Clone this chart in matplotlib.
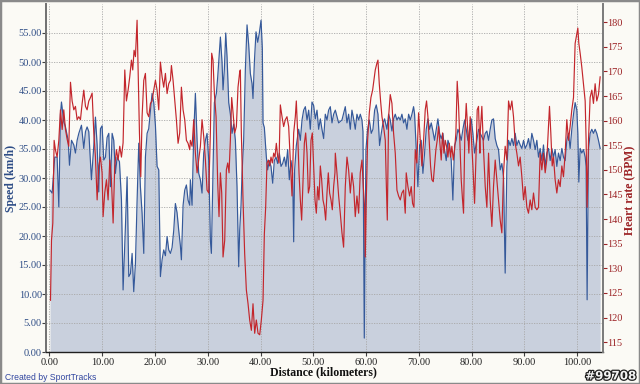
import matplotlib
matplotlib.use("Agg")
import matplotlib.pyplot as plt
from matplotlib.ticker import FixedLocator, FormatStrFormatter
from matplotlib.patches import Rectangle
import matplotlib.patheffects as pe

speed_km = [0.1, 0.5, 1.0, 1.45, 1.77, 2.08, 2.27, 2.71, 3.03, 3.54, 3.79, 4.17, 4.61, 4.92, 5.24, 5.56,
            6.06, 6.5, 6.82, 7.13, 7.45, 7.95, 8.4, 8.71, 9.03, 9.34, 9.66, 9.97, 10.29, 10.61, 10.92,
            11.24, 11.55, 11.87, 12.18, 12.5, 12.82, 13.26, 13.64, 13.95, 14.39, 14.71, 15.03, 15.34,
            15.66, 15.97, 16.29, 16.6, 16.92, 17.23, 17.55, 17.87, 18.18, 18.5, 18.81, 19.44, 19.76,
            20.08, 20.39, 20.71, 21.02, 21.34, 21.65, 21.97, 22.29, 22.6, 22.92, 23.23, 23.55, 23.86,
            24.18, 24.49, 24.81, 25.0, 25.32, 25.63, 25.95, 26.26, 26.58,
            26.7, 27.02, 27.34, 27.65, 27.97, 28.28, 28.6, 28.91, 29.23, 29.55, 29.86, 30.18, 30.49,
            30.68, 30.93, 31.25, 31.63, 31.88, 32.13, 32.39, 32.7, 32.89, 33.14, 33.4, 33.65, 33.97,
            34.28, 34.6, 34.91, 35.23, 35.54, 35.86, 36.05, 36.3, 36.49, 36.8, 37.12, 37.44, 37.75,
            38.07, 38.38, 38.57, 38.83, 39.14, 39.46, 39.77, 40.09, 40.34, 40.47, 40.72, 41.1, 41.35,
            41.67, 41.98, 42.3, 42.61, 42.93, 43.25, 43.56, 43.88, 44.19, 44.51, 44.82, 45.14, 45.45,
            45.77, 46.08, 46.28, 46.46, 46.78, 47.22, 47.54, 47.86, 48.17, 48.49, 48.81, 49.12, 49.43,
            49.75, 50.06, 50.38, 50.7, 51.01, 51.33, 51.64, 51.96, 52.27, 52.59, 52.9, 53.22, 53.54,
            53.85,
            54.17, 54.8, 55.43, 56.06, 56.38, 56.69, 57.01, 57.32, 57.64, 57.95, 58.27, 58.59, 58.9,
            59.22, 59.41, 59.66, 59.97, 60.29, 60.61, 60.98, 61.3, 61.62, 61.93, 62.25, 62.56, 62.88,
            63.2, 63.51, 63.95, 64.27, 64.58, 64.9, 65.21, 65.53, 65.85, 66.16, 66.48, 66.79, 67.11,
            67.42, 67.74, 68.06, 68.37, 68.69, 69.0, 69.19, 69.51, 69.82, 70.14, 70.45, 70.77, 71.09,
            71.4, 71.72, 72.03, 72.35, 72.66, 72.98, 73.3, 73.61, 73.93, 74.24, 74.56, 74.87, 75.19,
            75.51, 75.82, 76.14, 76.45, 76.77, 77.08, 77.4, 77.71, 78.03, 78.35, 78.66, 78.98, 79.29,
            79.61, 79.92, 80.24, 80.56, 81.0, 81.31,
            81.63, 82.26, 82.58, 82.89, 83.21, 83.52, 83.84, 84.15, 84.47, 84.79, 85.1, 85.42, 85.73,
            86.05, 86.36, 86.68, 87.0, 87.31, 87.63, 87.94, 88.26, 88.57, 88.89, 89.2, 89.52, 89.84,
            90.15, 90.47, 90.78, 91.1, 91.41, 91.73, 92.05, 92.36, 92.68, 92.99, 93.31, 93.62, 93.94,
            94.25, 94.57, 94.89, 95.2, 95.52, 95.83, 96.15, 96.46, 96.78, 97.1, 97.41, 97.73, 98.04,
            98.36, 98.67, 98.99, 99.31, 99.62, 99.94, 100.13, 100.32, 100.57, 100.88, 101.2, 101.52,
            101.7, 101.89, 102.15, 102.46, 102.78, 103.09, 103.41, 103.72, 104.04, 104.36]
speed_kmh = [27.9, 27.4, 33.6, 33.6, 25.0, 41.0, 43.1, 39.7, 38.8, 36.5, 32.2, 36.5, 35.7, 34.3, 36.5, 37.7,
             39.1, 35.1, 38.0, 38.8, 38.0, 29.7, 35.6, 40.5, 35.7, 27.6, 38.5, 39.0, 33.1, 33.6, 37.0,
             37.7, 28.5, 37.7, 36.5, 30.8, 33.6, 32.8, 26.2, 10.7, 21.6, 30.2, 13.0, 13.5,
             17.0, 10.4, 15.3, 26.0, 36.0, 28.5, 23.9, 17.0, 33.6, 37.7, 38.5, 44.6, 43.0,
             39.0, 32.0, 31.4, 13.0, 15.9, 17.6, 16.6, 19.9, 17.6, 17.0, 18.0, 21.0, 25.6,
             24.0, 21.0, 18.3, 15.9, 25.3, 27.9, 28.8, 26.2, 25.3,
             29.7, 25.3, 37.7, 44.6, 36.5, 30.8, 29.7, 27.4, 34.3, 36.5, 37.7, 33.0, 19.3,
             17.0, 28.5, 43.0, 44.6, 47.4, 50.9, 54.3, 50.0, 45.2, 48.7, 55.0, 50.9, 43.0,
             41.0, 37.7, 39.3, 36.5, 28.5, 14.7, 21.0, 25.3, 30.8, 36.5, 48.7, 56.4, 53.0,
             48.0, 46.3, 43.7, 50.0, 55.2, 53.4, 55.0, 57.2, 52.3, 39.5, 38.7, 33.6, 31.4,
             33.0, 32.0, 29.1, 33.0, 33.6, 32.5, 34.3, 32.0, 32.5, 33.6, 32.0, 34.9, 29.7,
             33.0, 30.8, 19.0, 31.4, 35.6, 38.4, 36.5, 40.0, 41.7, 42.3, 40.0, 41.7, 38.4,
             43.1, 42.5, 40.2, 41.7, 38.4, 40.2, 38.4, 36.8, 41.0, 40.0, 41.7, 42.3, 39.5,
             41.0,
             41.7, 39.5, 40.0, 42.3, 39.5, 41.0, 38.4, 41.7, 40.2, 38.4, 41.0, 40.0, 41.0,
             40.0, 38.0, 2.4, 34.9, 38.4, 40.0, 37.7, 38.4, 41.7, 42.6, 41.0, 35.6, 37.7,
             39.5, 40.2, 38.4, 41.0, 40.0, 38.1, 40.2, 41.0, 40.0, 40.5, 40.0, 41.0, 39.5,
             40.2, 38.4, 41.0, 40.0, 41.0, 42.3, 41.0, 34.9, 28.5, 35.6, 36.5, 30.8, 34.3,
             38.4, 40.2, 38.4, 39.5, 38.1, 36.5, 38.4, 40.2, 37.7, 36.8, 37.7, 34.9, 33.0,
             36.5, 35.6, 33.0, 26.2, 35.6, 36.5, 38.4, 37.7, 36.5, 38.4, 40.0, 38.4, 36.5,
             38.4, 40.2, 37.7, 34.3, 36.5, 38.4,
             37.7, 36.5, 37.7, 38.1, 36.5, 38.4, 40.0, 40.2, 36.8, 35.6, 34.9, 31.4, 32.5,
             30.2, 13.6, 32.0, 36.5, 35.6, 36.8, 35.6, 37.7, 35.6, 36.5, 35.7, 35.1, 36.5,
             35.1, 35.7, 36.8, 35.1, 37.7, 36.5, 34.9, 36.5, 33.6, 35.1, 33.0, 35.7, 32.0,
             34.3, 35.1, 33.0, 35.1, 33.6, 34.9, 32.0, 34.3, 33.0, 35.1, 33.6, 33.0, 36.5,
             37.7, 35.1, 38.4, 41.0, 43.0, 41.7, 37.7, 29.3, 35.1, 34.3, 34.9, 33.6,
             32.0, 9.0, 34.9, 37.7, 38.4, 37.7, 38.4, 37.7, 36.5, 35.1]

hr_km = [0.19, 0.38, 0.63, 0.88, 1.14, 1.45, 1.77, 2.08, 2.4, 2.71, 3.03, 3.35, 3.66, 3.98, 4.29, 4.61,
         4.92, 5.24, 5.56, 5.87, 6.19, 6.5, 6.82, 7.13, 7.45, 7.77, 8.08, 8.4, 8.71, 9.03, 9.34, 9.66,
         9.97, 10.16, 10.48, 10.8, 11.11, 11.43, 11.74, 12.06, 12.37, 12.69, 13.0, 13.32, 13.64, 13.95,
         14.27, 14.58, 14.9, 15.21, 15.53, 15.78, 16.03, 16.29, 16.6, 16.79, 17.05, 17.3, 17.55, 17.87,
         18.18, 18.5, 18.81, 19.13, 19.44, 19.76, 20.08, 20.39, 20.71, 21.02, 21.34, 21.65, 21.97,
         22.29, 22.6, 22.92, 23.11, 23.42, 23.74, 24.05, 24.37, 24.68, 25.0, 25.32, 25.63, 25.95,
         26.26, 26.58,
         26.7, 27.02, 27.34, 27.65, 27.97, 28.28, 28.6, 28.91, 29.23, 29.55, 29.86, 30.18, 30.49,
         30.74, 30.99, 31.25, 31.57, 31.88, 32.13, 32.39, 32.64, 32.89, 33.21, 33.52, 33.78, 34.03,
         34.28, 34.53, 34.79, 35.1, 35.42, 35.73, 36.05, 36.17, 36.36, 36.68, 36.99, 37.31, 37.63,
         37.94, 38.26, 38.57, 38.89, 39.2, 39.52, 39.84, 40.15, 40.47, 40.72, 40.97, 41.22, 41.48,
         41.73, 41.98, 42.23, 42.49, 42.74, 42.99, 43.25, 43.5, 43.75, 44.07, 44.38, 44.7, 45.01,
         45.33, 45.64, 45.96, 46.28, 46.59, 46.78, 47.03, 47.29, 47.54, 47.79, 48.05, 48.3, 48.55,
         48.81, 49.06, 49.31, 49.56, 49.81, 50.06, 50.32, 50.57, 50.82, 51.07, 51.33, 51.58, 51.83,
         52.08, 52.34, 52.59, 52.84, 53.09, 53.35, 53.6, 53.85, 54.1,
         54.17, 54.48, 54.8, 55.11, 55.43, 55.74, 56.06, 56.38, 56.69, 57.01, 57.32, 57.64, 57.95,
         58.27, 58.59, 58.9, 59.22, 59.47, 59.72, 59.85, 60.04, 60.29, 60.61, 60.92, 61.24, 61.49,
         61.74, 62.06, 62.25, 62.5, 62.75, 63.01, 63.32, 63.64, 63.83, 64.02, 64.27, 64.58, 64.9,
         65.21, 65.53, 65.85, 66.16, 66.48, 66.79, 67.11, 67.42, 67.61, 67.93, 68.25, 68.56, 68.81,
         69.07, 69.32, 69.63, 69.95, 70.27, 70.58, 70.9, 71.21, 71.46, 71.72, 71.97, 72.22, 72.47,
         72.73, 72.98, 73.23, 73.48, 73.74, 73.99, 74.24, 74.49, 74.75, 75.0, 75.25, 75.51, 75.76,
         76.01, 76.26, 76.52, 76.77, 77.02, 77.27, 77.53, 77.78, 78.03, 78.28, 78.47, 78.72, 78.98,
         79.23, 79.48, 79.73, 79.99, 80.24, 80.56, 80.81, 81.06, 81.31, 81.57,
         81.63, 81.94, 82.26, 82.58, 82.89, 83.21, 83.52, 83.84, 84.15, 84.47, 84.79, 85.1, 85.42,
         85.73, 86.05, 86.36, 86.68, 87.0, 87.31, 87.63, 87.94, 88.26, 88.57, 88.89, 89.2, 89.52,
         89.84, 90.15, 90.47, 90.78, 91.1, 91.41, 91.73, 92.05, 92.36, 92.68, 92.99, 93.31, 93.62,
         93.94, 94.25, 94.57, 94.76, 95.01, 95.27, 95.52, 95.83, 96.15, 96.46, 96.78, 97.1, 97.41,
         97.73, 98.04, 98.36, 98.67, 98.99, 99.31, 99.62, 99.94, 100.13, 100.32, 100.57, 100.88,
         101.2, 101.52, 101.7, 101.89, 102.15, 102.46, 102.78, 103.09, 103.41, 103.72, 104.04, 104.36]
hr_bpm = [123.5, 135.7, 139.2, 156.0, 154.0, 152.6, 156.0, 162.2, 158.2, 162.2, 158.2, 156.2, 154.8, 167.8,
          164.0, 162.2, 162.9, 160.2, 160.8, 160.2, 163.5, 166.2, 162.9, 162.2, 164.0, 164.7, 165.6,
          157.5, 152.6, 143.9, 150.8, 152.6, 149.4, 140.5, 145.4, 148.0, 143.9, 152.0, 148.0, 139.2,
          150.8, 154.1, 152.0, 154.8, 152.6, 155.5, 170.3, 164.0, 166.2, 168.9, 172.3, 170.3, 174.3,
          173.0, 180.4, 171.0, 157.5, 148.6, 160.8, 168.2, 169.6, 161.6, 160.8, 163.5, 164.0, 166.2,
          168.2, 166.2, 162.2, 171.9, 168.9, 166.8, 169.6, 165.5, 167.5, 168.2, 171.2, 168.2, 164.0,
          160.2, 155.4, 157.5, 166.8, 162.2, 160.2, 156.0, 155.4, 154.1,
          156.0, 154.8, 160.2, 153.4, 149.4, 152.0, 154.8, 160.2, 156.8, 152.0, 145.9, 145.3, 157.5,
          173.7, 172.3, 165.5, 160.8, 147.3, 140.5, 149.4, 145.3, 132.3, 135.7, 150.0, 151.4, 149.4,
          156.0, 164.7, 161.6, 157.5, 158.8, 166.8, 169.9, 170.3, 157.5, 143.9, 133.0, 125.6, 122.8,
          119.5, 117.4, 122.8, 116.8, 119.5, 116.8, 116.5, 119.5, 123.5, 137.0, 142.4, 151.4, 152.0,
          150.8, 152.6, 151.4, 153.4, 152.6, 155.4, 152.6, 151.4, 163.2, 160.8, 158.8, 160.2, 160.8,
          158.8, 152.0, 144.7, 157.5, 160.8, 164.0, 157.5, 149.4, 143.9, 139.8, 148.0, 155.4, 157.5,
          153.4, 145.3, 146.6, 156.0, 157.5, 150.8, 143.9, 141.2, 146.6, 143.9, 150.8, 148.0, 143.9,
          142.6, 139.8, 145.3, 149.4, 145.3, 143.9, 141.9, 146.6, 149.4,
          153.4, 149.4, 144.7, 141.2, 137.2, 134.3, 146.6, 152.6, 150.0, 145.3, 149.4, 146.6, 140.5,
          144.7, 141.2, 149.4, 152.0, 146.6, 142.4, 132.3, 143.9, 156.0, 161.6, 164.7, 166.2, 168.2,
          170.3, 171.7, 172.3, 167.5, 164.0, 160.8, 158.8, 156.0, 147.3, 139.8, 160.8, 165.3, 163.5,
          157.5, 153.4, 145.9, 144.7, 143.9, 145.3, 145.9, 141.2, 149.4, 146.6, 144.7, 146.6, 143.2,
          142.4, 154.1, 151.4, 161.6, 156.0, 150.8, 156.0, 162.2, 164.0, 160.8, 156.0, 150.8, 148.0,
          147.6, 150.8, 154.1, 156.0, 158.8, 155.4, 152.0, 157.5, 153.4, 156.0, 154.8, 152.6, 155.4,
          152.6, 154.8, 152.0, 154.1, 157.5, 168.0, 162.9, 155.4, 148.0, 143.9, 141.2, 157.5, 163.5,
          158.8, 153.4, 160.8, 156.0, 150.8, 143.2, 152.0, 162.2, 162.9, 153.4,
          157.5, 162.9, 154.1, 146.6, 142.4, 153.4, 143.9, 138.5, 146.6, 152.0, 148.0, 143.9, 139.8,
          137.2, 149.4, 154.8, 152.0, 164.0, 162.2, 164.0, 160.8, 155.4, 153.4, 150.8, 152.6, 148.6,
          143.9, 146.6, 142.4, 141.2, 143.9, 141.9, 145.3, 142.4, 141.9, 142.4, 153.4, 150.0, 153.4,
          149.4, 152.0, 158.8, 162.9, 157.5, 150.8, 152.6, 148.0, 145.3, 148.0, 146.6, 150.8, 148.6,
          153.4, 160.2, 156.0, 158.8, 162.2, 164.7, 175.7, 177.7, 178.8, 175.7, 173.7, 170.9,
          167.5, 164.0, 156.0, 142.4, 156.0, 164.7, 166.2, 163.5, 167.5, 164.0, 165.3, 168.9]

x_ticks = [0, 10, 20, 30, 40, 50, 60, 70, 80, 90, 100]
speed_ticks = [0, 5, 10, 15, 20, 25, 30, 35, 40, 45, 50, 55]
hr_ticks = [115, 120, 125, 130, 135, 140, 145, 150, 155, 160, 165, 170, 175, 180]

BG = "#FBFAF5"
BLUE_LINE = "#35599A"
FILL = "#C9D0DD"
RED = "#C3262C"
BLUE_TXT = "#2E4D86"
RED_TXT = "#9C2326"
SERIF = "Liberation Serif"

fig = plt.figure(figsize=(6.4, 3.84), dpi=100, facecolor=BG)
ax = fig.add_axes([46 / 640, 32 / 384, 557 / 640, 348 / 384])
ax.set_facecolor(BG)
ax.set_axisbelow("line")

ax.fill_between(speed_km, speed_kmh, 0, color=FILL, lw=0, zorder=1)
ax.plot(speed_km, speed_kmh, color=BLUE_LINE, lw=0.85, zorder=2)
ax.set_xlim(-0.66, 104.9)
ax.set_ylim(0, 60)

ax.xaxis.set_major_locator(FixedLocator(x_ticks))
ax.yaxis.set_major_locator(FixedLocator(speed_ticks))
ax.xaxis.set_major_formatter(FormatStrFormatter("%.2f"))
ax.yaxis.set_major_formatter(FormatStrFormatter("%.2f"))
ax.grid(True, color="#A8A8A8", lw=0.6, ls=(0, (1.5, 1.5)))

ax2 = ax.twinx()
ax2.plot(hr_km, hr_bpm, color=RED, lw=0.85)
ax2.set_ylim(113, 183.7)
ax2.yaxis.set_major_locator(FixedLocator(hr_ticks))

for a in (ax, ax2):
    a.spines["top"].set_visible(False)
ax.spines["left"].set_color("#707070")
ax.spines["left"].set_linewidth(1.4)
ax.spines["bottom"].set_color("#202020")
ax.spines["bottom"].set_linewidth(1.0)
ax.spines["right"].set_visible(False)
ax2.spines["left"].set_visible(False)
ax2.spines["bottom"].set_visible(False)
ax2.spines["right"].set_color("#7A7A7A")
ax2.spines["right"].set_linewidth(1.4)

ax.tick_params(axis="x", direction="out", length=3, width=0.8, color="#404040",
               labelsize=7.5, labelcolor="#202020", pad=1)
ax.tick_params(axis="y", direction="out", length=3, width=0.8, color="#404040",
               labelsize=7.5, labelcolor=BLUE_TXT, pad=0)
ax2.tick_params(axis="y", direction="out", length=3, width=0.8, color="#9C2326",
                labelsize=7.5, labelcolor=RED_TXT, pad=0)
for lab in ax.get_xticklabels() + ax.get_yticklabels() + ax2.get_yticklabels():
    lab.set_fontfamily(SERIF)

fig.text(11 / 640, 1 - 178 / 384, "Speed (km/h)", rotation=90, ha="center", va="center",
         color=BLUE_TXT, fontsize=8.5, fontweight="bold", family=SERIF)
fig.text(630 / 640, 1 - 190 / 384, "Heart rate (BPM)", rotation=90, ha="center", va="center",
         color=RED_TXT, fontsize=8.5, fontweight="bold", family=SERIF)
fig.text(323 / 640, 1 - 372 / 384, "Distance (kilometers)", ha="center", va="center",
         color="#101010", fontsize=8.5, fontweight="bold", family=SERIF)
fig.text(5 / 640, 1 - 377 / 384, "Created by SportTracks", ha="left", va="center",
         color="#3146A0", fontsize=6.2, family="Liberation Sans")
t = fig.text(636 / 640, 1 - 376 / 384, "#99708", ha="right", va="center",
             color="#F4F4F4", fontsize=8.5, fontweight="bold", family="DejaVu Sans")
t.set_path_effects([pe.withStroke(linewidth=1.8, foreground="#202020")])

fig.patches.append(Rectangle((0, 0), 1, 1, transform=fig.transFigure, fill=False,
                             edgecolor="#8A8A8A", lw=2.5))

fig.savefig("out.png", dpi=100, facecolor=BG)
